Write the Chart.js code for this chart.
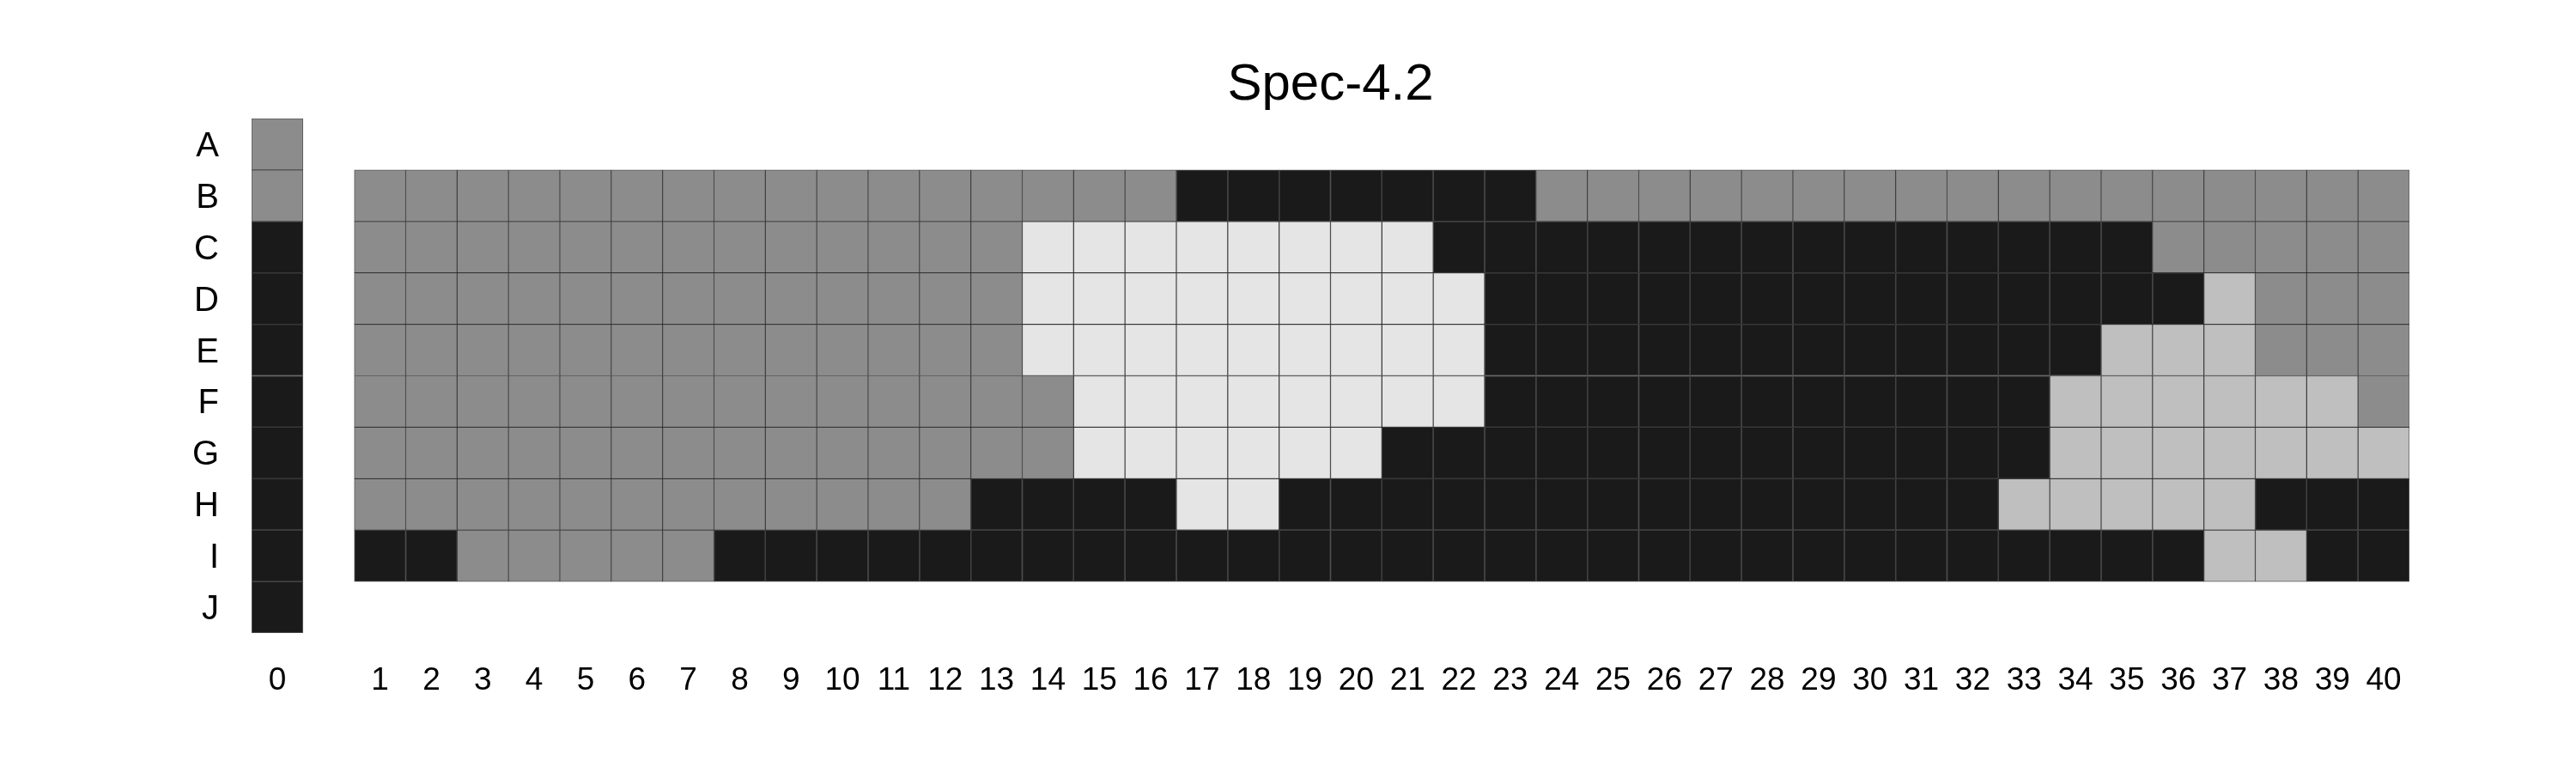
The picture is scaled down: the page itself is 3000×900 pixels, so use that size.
<!DOCTYPE html>
<html>
<head>
<meta charset="utf-8">
<script src="https://cdn.jsdelivr.net/npm/chart.js@4.4.1/dist/chart.umd.min.js"></script>
<style>
  html, body { margin: 0; padding: 0; background: #fff; }
  canvas { display: block; }
</style>
</head>
<body>
<canvas id="grid" width="3000" height="900"></canvas>
<script>
// row and column labels
const rowLabels = ['A', 'B', 'C', 'D', 'E', 'F', 'G', 'H', 'I', 'J'];
const colLabels = ['0', '', '1', '2', '3', '4', '5', '6', '7', '8', '9', '10',
    '11', '12', '13', '14', '15', '16', '17', '18', '19', '20', '21', '22', '23',
    '24', '25', '26', '27', '28', '29', '30', '31', '32', '33', '34', '35', '36',
    '37', '38', '39', '40'];

// cell classes: 0 dark, 1 gray, 2 silver, 3 light
const palette = ['#1a1a1a', '#8c8c8c', '#bfbfbf', '#e5e5e5'];

// column 0, rows A..J
const colZero = [1, 1, 0, 0, 0, 0, 0, 0, 0, 0];

// columns 1..40, rows B..I
const rowB = [1,1,1,1,1,1,1,1,1,1,1,1,1,1,1,1,0,0,0,0,0,0,0,1,1,1,1,1,1,1,1,1,1,1,1,1,1,1,1,1];
const rowC = [1,1,1,1,1,1,1,1,1,1,1,1,1,3,3,3,3,3,3,3,3,0,0,0,0,0,0,0,0,0,0,0,0,0,0,1,1,1,1,1];
const rowD = [1,1,1,1,1,1,1,1,1,1,1,1,1,3,3,3,3,3,3,3,3,3,0,0,0,0,0,0,0,0,0,0,0,0,0,0,2,1,1,1];
const rowE = [1,1,1,1,1,1,1,1,1,1,1,1,1,3,3,3,3,3,3,3,3,3,0,0,0,0,0,0,0,0,0,0,0,0,2,2,2,1,1,1];
const rowF = [1,1,1,1,1,1,1,1,1,1,1,1,1,1,3,3,3,3,3,3,3,3,0,0,0,0,0,0,0,0,0,0,0,2,2,2,2,2,2,1];
const rowG = [1,1,1,1,1,1,1,1,1,1,1,1,1,1,3,3,3,3,3,3,0,0,0,0,0,0,0,0,0,0,0,0,0,2,2,2,2,2,2,2];
const rowH = [1,1,1,1,1,1,1,1,1,1,1,1,0,0,0,0,3,3,0,0,0,0,0,0,0,0,0,0,0,0,0,0,2,2,2,2,2,0,0,0];
const rowI = [0,0,1,1,1,1,1,0,0,0,0,0,0,0,0,0,0,0,0,0,0,0,0,0,0,0,0,0,0,0,0,0,0,0,0,0,2,2,0,0];

const mainRows = { B: rowB, C: rowC, D: rowD, E: rowE, F: rowF, G: rowG, H: rowH, I: rowI };

// one floating-bar dataset per row
const datasets = rowLabels.map((name, r) => {
    const data = [];
    const colors = [];
    colLabels.forEach((lab, c) => {
        let cls = null;
        if (c === 0) cls = colZero[r];
        else if (c >= 2 && mainRows[name]) cls = mainRows[name][c - 2];
        data.push(cls === null ? null : [r, r + 1]);
        colors.push(cls === null ? 'rgba(0,0,0,0)' : palette[cls]);
    });
    return {
        label: name,
        data: data,
        backgroundColor: colors,
        borderColor: 'rgba(0,0,0,0.65)',
        borderWidth: 1,
        borderSkipped: false,
        barPercentage: 1,
        categoryPercentage: 1,
        grouped: false
    };
});

const font = 'Liberation Sans, Arial, Helvetica, sans-serif';

new Chart(document.getElementById('grid'), {
    type: 'bar',
    data: { labels: colLabels, datasets: datasets },
    options: {
        responsive: false,
        animation: false,
        devicePixelRatio: 1,
        layout: { padding: { left: 0, right: 194, top: 0, bottom: 0 } },
        plugins: {
            legend: { display: false },
            tooltip: { enabled: false },
            title: {
                display: true,
                text: 'Spec-4.2',
                fullSize: false,
                color: '#000',
                font: { family: font, size: 60, weight: 'normal', lineHeight: 1.2 },
                padding: { top: 63, bottom: 3 }
            }
        },
        scales: {
            x: {
                type: 'category',
                grid: { display: false },
                border: { display: false },
                ticks: {
                    color: '#000',
                    autoSkip: false,
                    maxRotation: 0,
                    padding: 26,
                    font: { family: font, size: 37 }
                },
                afterFit: (axis) => { axis.height = 163; }
            },
            y: {
                type: 'linear',
                min: 0,
                max: 10,
                reverse: true,
                grid: { display: false },
                border: { display: false },
                afterBuildTicks: (axis) => {
                    axis.ticks = rowLabels.map((l, i) => ({ value: i + 0.5 }));
                },
                ticks: {
                    color: '#000',
                    padding: 30,
                    labelOffset: 3,
                    font: { family: font, size: 40 },
                    callback: (v, i) => rowLabels[i]
                },
                afterFit: (axis) => { axis.width = 293; }
            }
        }
    }
});
</script>
</body>
</html>
